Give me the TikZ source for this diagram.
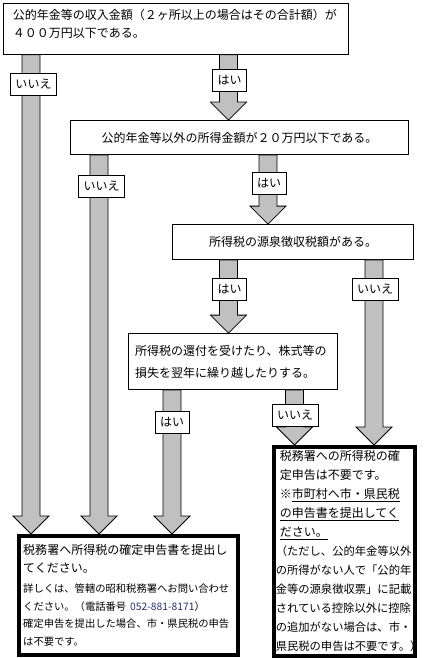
\documentclass[tikz,border=0pt]{standalone}
\usepackage{fontspec}
\setmainfont{Noto Sans CJK JP}
\usetikzlibrary{calc, positioning}
\definecolor{arrgray}{HTML}{C0C0C0}
\definecolor{telblue}{rgb}{0.15,0.18,0.45}
\newcommand{\garrow}[2]{%
  \filldraw[fill=arrgray, draw=black, line width=0.8pt, line join=miter]
    let \p1 = #1, \p2 = #2 in
    (\x1-9pt,\y1) -- (\x1+9pt,\y1) -- (\x1+9pt,\y2+18pt) -- (\x1+18pt,\y2+18pt)
    -- (\x1,\y2) -- (\x1-18pt,\y2+18pt) -- (\x1-9pt,\y2+18pt) -- cycle;}

\begin{document}
\begin{tikzpicture}[x=1pt, y=-1pt,
    box/.style={draw, line width=0.8pt, font=\fontsize{12pt}{18pt}\selectfont},
    res/.style={draw, line width=3.5pt, align=left},
    lbl/.style={draw, fill=white, line width=0.8pt, minimum height=22pt,
      inner xsep=5pt, inner ysep=0pt, font=\fontsize{12pt}{14pt}\selectfont}]
\useasboundingbox (0,0) rectangle (426,658);

\node[box, anchor=north west, minimum width=345pt, minimum height=51pt,
  text width=326pt, align=left, text depth=30pt] (q1) at (3,3)
  {公的年金等の収入金額（２ヶ所以上の場合はその合計額）が\\４００万円以下である。};
\node[box, minimum width=338pt, minimum height=34pt] (q2) at (239.5,137.5)
  {公的年金等以外の所得金額が２０万円以下である。};
\node[box, minimum width=241pt, minimum height=35pt] (q3) at (293,242)
  {所得税の源泉徴収税額がある。};
\node[box, minimum width=209pt, minimum height=56pt, text width=196pt,
  align=left, font=\fontsize{12pt}{22pt}\selectfont] (q4) at (233,361.5)
  {所得税の還付を受けたり、株式等の\\損失を翌年に繰り越したりする。};

\node[res, anchor=north west, minimum width=219pt, minimum height=119pt,
  text width=210pt, inner xsep=4pt, font=\fontsize{12pt}{17.5pt}\selectfont] (res1) at (17,534)
  {税務署へ所得税の確定申告書を提出し\\てください。\\[3pt]
   \fontsize{10.3pt}{17.5pt}\selectfont
   詳しくは、管轄の昭和税務署へお問い合わせ\\
   ください。（電話番号 {\color{telblue}052-881-8171}）\\
   確定申告を提出した場合、市・県民税の申告\\
   は不要です。};
\node[res, anchor=north west, minimum width=141pt, minimum height=209pt,
  text width=135pt, inner xsep=3pt, inner ysep=0pt,
  font=\fontsize{12pt}{19pt}\selectfont] (res2) at (272,445)
  {\lineskiplimit=-100pt\relax
   \hspace*{3pt}税務署への所得税の確\\
   \hspace*{3pt}定申告は不要です。\\
   \hspace*{3pt}※\underline{市町村へ市・県民税}\\
   \hspace*{3pt}\underline{の申告書を提出してく}\\
   \hspace*{3pt}\underline{ださい。}\\
   \fontsize{11.3pt}{19pt}\selectfont
   \hspace*{-1pt}（ただし、公的年金等以外\\
   \hspace*{-1pt}の所得がない人で「公的年\\
   \hspace*{-1pt}金等の源泉徴収票」に記載\\
   \hspace*{-1pt}されている控除以外に控除\\
   \hspace*{-1pt}の追加がない場合は、市・\\
   \hspace*{-1pt}県民税の申告は不要です。）};

\garrow{(q1.south -| 31,0)}{(res1.north)}
\garrow{(q1.south -| 228.5,0)}{(q2.north)}
\garrow{(q2.south -| 99,0)}{(res1.north)}
\garrow{(q2.south -| 268,0)}{(q3.north)}
\garrow{(q3.south -| 228.5,0)}{(q4.north)}
\garrow{(q3.south -| 374,0)}{(res2.north)}
\garrow{(q4.south -| 172,0)}{(res1.north)}
\garrow{(q4.south -| 294.5,0)}{(res2.north)}

\node[lbl] (no1) at (33.5,84) {いいえ};
\node[lbl] (yes1) at (229.5,80.5) {はい};
\node[lbl] (no2) at (101.5,186.5) {いいえ};
\node[lbl] (yes2) at (269,183) {はい};
\node[lbl] (yes3) at (229.5,289.5) {はい};
\node[lbl] (no3) at (375,289.5) {いいえ};
\node[lbl] (yes4) at (172,422.5) {はい};
\node[lbl] (no4) at (295,415) {いいえ};
\end{tikzpicture}
\end{document}
